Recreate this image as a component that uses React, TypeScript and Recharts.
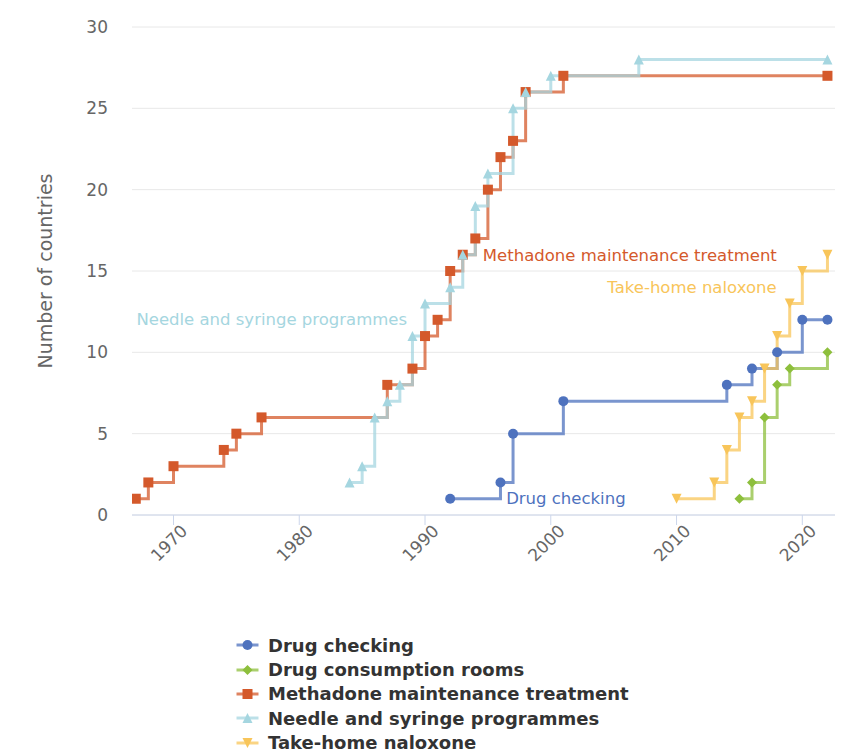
import React from "react";
import { LineChart, Line, XAxis, YAxis, CartesianGrid, ReferenceDot } from "recharts";

const FONT = "'DejaVu Sans', sans-serif";
const GRID = "#e8e8e8";
const AXIS = "#ccd6eb";
const INK = "#666666";

// Years (x) and number of countries (y) per intervention
const DC_YEARS = [1992, 1996, 1997, 2001, 2014, 2016, 2018, 2020, 2022];
const DC_VALUES = [1, 2, 5, 7, 8, 9, 10, 12, 12];

const DCR_YEARS = [2015, 2016, 2017, 2018, 2019, 2022];
const DCR_VALUES = [1, 2, 6, 8, 9, 10];

const MMT_YEARS = [1967, 1968, 1970, 1974, 1975, 1977, 1987, 1989, 1990, 1991, 1992, 1993, 1994, 1995, 1996, 1997, 1998, 2001, 2022];
const MMT_VALUES = [1, 2, 3, 4, 5, 6, 8, 9, 11, 12, 15, 16, 17, 20, 22, 23, 26, 27, 27];

const NSP_YEARS = [1984, 1985, 1986, 1987, 1988, 1989, 1990, 1992, 1993, 1994, 1995, 1997, 1998, 2000, 2007, 2022];
const NSP_VALUES = [2, 3, 6, 7, 8, 11, 13, 14, 16, 19, 21, 25, 26, 27, 28, 28];

const THN_YEARS = [2010, 2013, 2014, 2015, 2016, 2017, 2018, 2019, 2020, 2022];
const THN_VALUES = [1, 2, 4, 6, 7, 9, 11, 13, 15, 16];

const X_TICKS = [1970, 1980, 1990, 2000, 2010, 2020];
const Y_TICKS = [0, 5, 10, 15, 20, 25, 30];

const toRows = (years: number[], values: number[]) =>
  years.map((year, i) => ({ year, value: values[i] }));

type Shape = "circle" | "diamond" | "square" | "triangle" | "triangle-down";

const SERIES: { name: string; color: string; shape: Shape; data: { year: number; value: number }[] }[] = [
  { name: "Drug checking", color: "#4e72be", shape: "circle", data: toRows(DC_YEARS, DC_VALUES) },
  { name: "Drug consumption rooms", color: "#8dbf3c", shape: "diamond", data: toRows(DCR_YEARS, DCR_VALUES) },
  { name: "Methadone maintenance treatment", color: "#d4592b", shape: "square", data: toRows(MMT_YEARS, MMT_VALUES) },
  { name: "Needle and syringe programmes", color: "#a5d6e0", shape: "triangle", data: toRows(NSP_YEARS, NSP_VALUES) },
  { name: "Take-home naloxone", color: "#f8c55a", shape: "triangle-down", data: toRows(THN_YEARS, THN_VALUES) },
];

// in-plot series labels: [series index, anchor year, anchor value, side]
const SERIES_LABELS: [number, number, number, "right" | "left"][] = [
  [2, 1994.6, 16, "right"],
  [3, 1967.05, 12.05, "right"],
  [4, 2004.5, 14.0, "right"],
  [0, 1996.45, 1.05, "right"],
];

function Marker({ shape, cx, cy, color, r = 5 }: { shape: Shape; cx: number; cy: number; color: string; r?: number }) {
  if (cx == null || cy == null) return null;
  switch (shape) {
    case "circle":
      return <circle cx={cx} cy={cy} r={r} fill={color} />;
    case "diamond":
      return <path d={`M${cx},${cy - r} L${cx + r},${cy} L${cx},${cy + r} L${cx - r},${cy} Z`} fill={color} />;
    case "square":
      return <rect x={cx - r} y={cy - r} width={2 * r} height={2 * r} fill={color} />;
    case "triangle":
      return <path d={`M${cx},${cy - r} L${cx + r},${cy + r} L${cx - r},${cy + r} Z`} fill={color} />;
    default:
      return <path d={`M${cx - r},${cy - r} L${cx + r},${cy - r} L${cx},${cy + r} Z`} fill={color} />;
  }
}

function XTick(props: any) {
  const { x, y, payload } = props;
  const ax = x + 15;
  const ay = y + 7;
  return (
    <text
      x={ax}
      y={ay}
      transform={`rotate(-45, ${ax}, ${ay})`}
      textAnchor="end"
      fontSize={17}
      fontFamily={FONT}
      fill={INK}
    >
      {payload.value}
    </text>
  );
}

export default function App() {
  return (
    <div
      style={{
        position: "absolute",
        left: 0,
        top: 0,
        width: 855,
        height: 752,
        overflow: "hidden",
        background: "#fff",
        fontFamily: FONT,
      }}
    >
      <LineChart width={855} height={600} margin={{ top: 27, right: 20, bottom: 25, left: 0 }}>
        <CartesianGrid stroke={GRID} vertical={false} />
        <XAxis
          type="number"
          dataKey="year"
          domain={[1966.7, 2022.6]}
          allowDataOverflow
          ticks={X_TICKS}
          height={60}
          axisLine={{ stroke: AXIS }}
          tickLine={{ stroke: AXIS }}
          tickSize={10}
          tickMargin={0}
          tick={<XTick />}
        />
        <YAxis
          type="number"
          domain={[0, 30]}
          ticks={Y_TICKS}
          width={132}
          axisLine={false}
          tickLine={false}
          tickSize={0}
          tickMargin={24}
          tick={{ fill: INK, fontSize: 17, fontFamily: FONT }}
        />
        {SERIES.map((s) => (
          <Line
            key={s.name}
            data={s.data}
            dataKey="value"
            type="stepAfter"
            stroke={s.color}
            strokeWidth={3}
            strokeOpacity={0.75}
            isAnimationActive={false}
            dot={(p: any) => (
              <Marker key={`${s.name}-${p.index}`} shape={s.shape} cx={p.cx} cy={p.cy} color={s.color} />
            )}
            activeDot={false}
          />
        ))}
        {SERIES_LABELS.map(([si, x, y, side]) => (
          <ReferenceDot
            key={SERIES[si].name}
            x={x}
            y={y}
            r={0}
            fill="none"
            stroke="none"
            label={{
              value: SERIES[si].name,
              position: side,
              offset: 0,
              fill: SERIES[si].color,
              fontSize: 16.5,
              fontFamily: FONT,
            }}
          />
        ))}
      </LineChart>

      <div
        style={{
          position: "absolute",
          left: 45,
          top: 271,
          transform: "translate(-50%, -50%) rotate(-90deg)",
          whiteSpace: "nowrap",
          fontSize: 19,
          color: INK,
        }}
      >
        Number of countries
      </div>

      <div style={{ position: "absolute", left: 235, top: 633 }}>
        {SERIES.map((s) => (
          <div key={s.name} style={{ display: "flex", alignItems: "center", height: 24.4 }}>
            <svg width={26} height={14} style={{ display: "block" }}>
              <line x1={1.5} y1={7} x2={23.5} y2={7} stroke={s.color} strokeWidth={3} strokeOpacity={0.75} />
              <Marker shape={s.shape} cx={12.5} cy={7} color={s.color} />
            </svg>
            <span
              style={{
                marginLeft: 7,
                fontSize: 18,
                fontWeight: "bold",
                color: "#333",
                whiteSpace: "nowrap",
              }}
            >
              {s.name}
            </span>
          </div>
        ))}
      </div>
    </div>
  );
}
